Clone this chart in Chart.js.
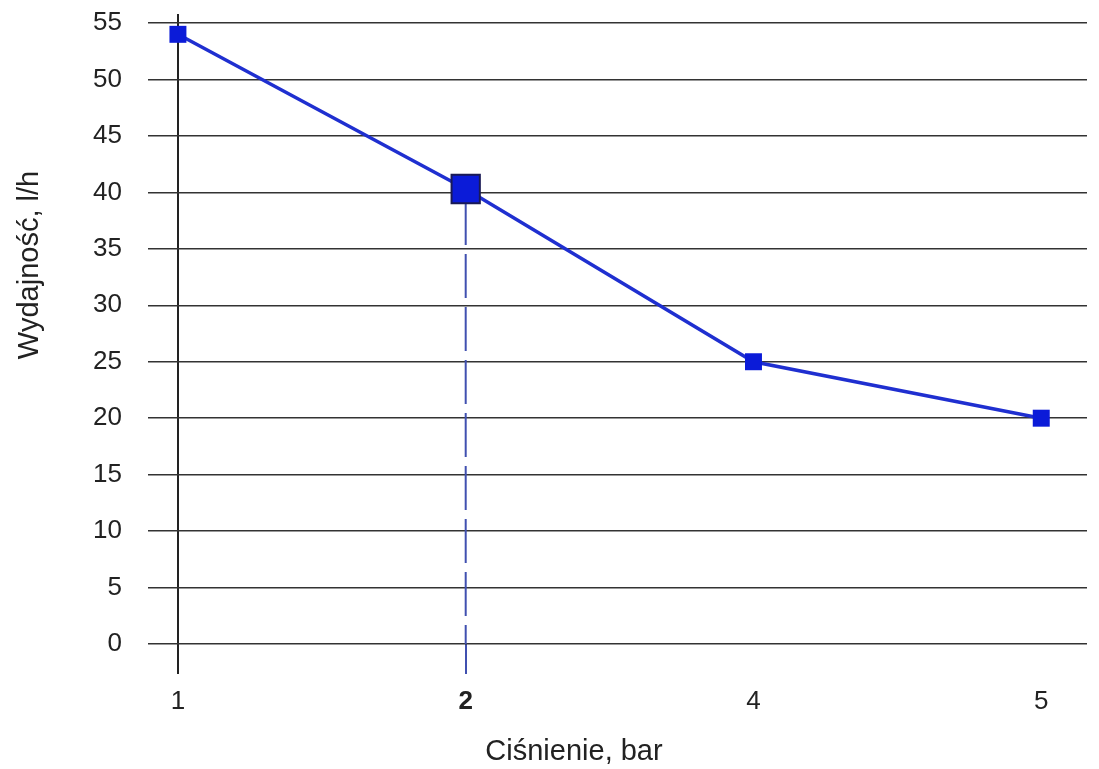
<!DOCTYPE html>
<html>
<head>
<meta charset="utf-8">
<script src="https://cdn.jsdelivr.net/npm/chart.js@4/dist/chart.umd.min.js"></script>
<style>
  html, body { margin: 0; padding: 0; background: #fff; }
</style>
</head>
<body>
<canvas id="chart" width="1099" height="769"></canvas>
<script>
// pressure categories and output values
const pressureLabels = ["1", "2", "4", "5"];
const outputValues = [54, 40.3, 25, 20];
const yTicks = [0, 5, 10, 15, 20, 25, 30, 35, 40, 45, 50, 55];
const highlightIndex = 1;

const xTitle = "Ciśnienie, bar";
const yTitle = "Wydajność, l/h";

const blue = "#1f2fd0";
const markerBlue = "#0b1bd8";
const dashBlue = "#4050b0";
const textColor = "#222";
const fontFamily = "'Liberation Sans', Arial, sans-serif";

const points = outputValues.map((v, i) => ({ x: i, y: v }));
const dropLine = [
  { x: highlightIndex, y: outputValues[highlightIndex] },
  { x: highlightIndex, y: 0 }
];

// axis titles sit off-centre in the original, so draw them by hand
const axisTitles = {
  id: "axisTitles",
  afterDraw(chart) {
    const ctx = chart.ctx;
    ctx.save();
    ctx.fillStyle = textColor;
    ctx.font = "29px " + fontFamily;
    ctx.textAlign = "center";
    ctx.textBaseline = "middle";
    ctx.fillText(xTitle, 574, 752);
    ctx.translate(30, 265);
    ctx.rotate(-Math.PI / 2);
    ctx.fillText(yTitle, 0, 0);
    ctx.restore();
  }
};

new Chart(document.getElementById("chart"), {
  type: "line",
  data: {
    datasets: [
      {
        data: points,
        borderColor: blue,
        borderWidth: 3.5,
        pointStyle: "rect",
        pointRadius: outputValues.map((v, i) => i === highlightIndex ? 20 : 12),
        pointBackgroundColor: markerBlue,
        pointBorderColor: outputValues.map((v, i) => i === highlightIndex ? "#1a1a55" : markerBlue),
        pointBorderWidth: outputValues.map((v, i) => i === highlightIndex ? 2 : 0),
        tension: 0,
        order: 1
      },
      {
        data: dropLine,
        borderColor: dashBlue,
        borderWidth: 2,
        borderDash: [44, 9],
        borderDashOffset: -12,
        pointRadius: 0,
        order: 2
      }
    ]
  },
  plugins: [axisTitles],
  options: {
    responsive: false,
    animation: false,
    layout: { padding: { left: 18, right: 8, top: 14, bottom: 0 } },
    plugins: { legend: { display: false }, tooltip: { enabled: false } },
    scales: {
      x: {
        type: "linear",
        min: -0.104,
        max: 3.159,
        afterBuildTicks: (axis) => {
          axis.ticks = pressureLabels.map((l, i) => ({ value: i }));
        },
        afterFit: (axis) => {
          axis.height = 125;
          axis.paddingLeft = 0;
          axis.paddingRight = 0;
        },
        border: { display: false },
        grid: {
          color: (ctx) => ctx.index === 0 ? "#222" : "rgba(0,0,0,0)",
          tickColor: (ctx) => ctx.index === 0 ? "#222" : (ctx.index === highlightIndex ? dashBlue : "rgba(0,0,0,0)"),
          lineWidth: (ctx) => ctx.index === 0 ? 2 : 2,
          tickLength: 30
        },
        ticks: {
          padding: 12,
          color: textColor,
          font: (ctx) => ({ family: fontFamily, size: 26, weight: ctx.index === highlightIndex ? "bold" : "normal" }),
          callback: (value) => pressureLabels[value]
        }
      },
      y: {
        min: 0,
        max: 55.8,
        afterBuildTicks: (axis) => {
          axis.ticks = yTicks.map((v) => ({ value: v }));
        },
        afterFit: (axis) => {
          axis.width = 130;
          axis.paddingTop = 0;
          axis.paddingBottom = 0;
        },
        border: { display: false },
        grid: {
          color: "#333",
          lineWidth: 1.5,
          drawTicks: false
        },
        ticks: {
          padding: 26,
          color: textColor,
          font: { family: fontFamily, size: 26 }
        }
      }
    }
  }
});
</script>
</body>
</html>
